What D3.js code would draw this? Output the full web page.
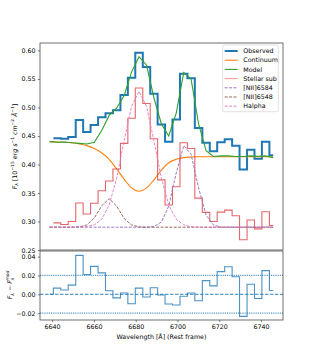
<!DOCTYPE html>
<head>
<meta charset="utf-8">
<style>
  body { margin: 0; background: #fff; }
  text { font-family: "DejaVu Sans", sans-serif; fill: #000; }
</style>
<script src="https://cdn.jsdelivr.net/npm/d3@7"></script>
</head>
<body>
<div id="chart"></div>
<script>

// wavelength grid (rest frame, Angstrom)
var wavelength = [6638.8, 6642.4, 6645.9, 6649.5, 6653.1, 6656.6, 6660.2, 6663.8, 6667.3, 6670.9,
                  6674.5, 6678.0, 6681.6, 6685.2, 6688.7, 6692.3, 6695.8, 6699.4, 6703.0, 6706.5,
                  6710.1, 6713.7, 6717.2, 6720.8, 6724.4, 6727.9, 6731.5, 6735.1, 6738.6, 6742.2, 6745.8];

var observed = [null, 0.446, 0.445, 0.448, 0.478, 0.457, 0.469, 0.483, 0.490, 0.495,
                0.522, 0.552, 0.596, 0.571, 0.524, 0.470, 0.440, 0.479, 0.559, 0.551,
                0.464, 0.438, 0.423, 0.439, 0.444, 0.433, 0.391, 0.426, 0.410, 0.440, 0.416];

var continuum = [0.440, 0.4395, 0.439, 0.438, 0.436, 0.433, 0.428, 0.420, 0.409, 0.392,
                 0.374, 0.359, 0.353, 0.359, 0.373, 0.390, 0.403, 0.409, 0.412, 0.413,
                 0.4135, 0.4135, 0.4135, 0.4135, 0.4135, 0.4135, 0.4135, 0.4135, 0.4135, 0.4135, 0.4135];

var model = [0.440, 0.439, 0.4395, 0.438, 0.437, 0.436, 0.439, 0.460, 0.486, 0.499,
             0.521, 0.562, 0.589, 0.574, 0.517, 0.471, 0.450, 0.490, 0.561, 0.550,
             0.471, 0.424, 0.414, 0.415, 0.415, 0.414, 0.414, 0.415, 0.4145, 0.415, 0.412];

var stellarSub = [null, 0.2976, 0.2946, 0.300, 0.3325, 0.313, 0.332, 0.354, 0.371, 0.392,
                  0.437, 0.481, 0.534, 0.507, 0.445, 0.373, 0.329, 0.361, 0.438, 0.428,
                  0.341, 0.316, 0.300, 0.3165, 0.320, 0.310, 0.268, 0.3025, 0.287, 0.317, 0.293];

var nii6584 = [0.290, 0.290, 0.290, 0.290, 0.290, 0.290, 0.290, 0.290, 0.290, 0.290,
               0.290, 0.290, 0.290, 0.290, 0.291, 0.299, 0.327, 0.385, 0.433, 0.418,
               0.359, 0.311, 0.294, 0.290, 0.290, 0.290, 0.290, 0.290, 0.290, 0.290, 0.290];

var nii6548 = [0.290, 0.290, 0.290, 0.290, 0.2905, 0.294, 0.306, 0.328, 0.340, 0.327,
               0.305, 0.294, 0.2905, 0.290, 0.290, 0.290, 0.290, 0.290, 0.290, 0.290,
               0.290, 0.290, 0.290, 0.290, 0.290, 0.290, 0.290, 0.290, 0.290, 0.290, 0.290];

var halpha = [0.290, 0.290, 0.290, 0.290, 0.290, 0.291, 0.294, 0.304, 0.329, 0.376,
              0.442, 0.502, 0.528, 0.502, 0.442, 0.376, 0.329, 0.304, 0.294, 0.291,
              0.290, 0.290, 0.290, 0.290, 0.290, 0.290, 0.290, 0.290, 0.290, 0.290, 0.290];

var residual = [0.000, 0.0066, 0.0045, 0.0097, 0.0414, 0.021, 0.0297, 0.0228, 0.0038, -0.0038,
                0.0014, -0.010, 0.0066, -0.0028, 0.0069, -0.0007, -0.0103, -0.0114, -0.002, 0.0014,
                -0.0069, 0.0145, 0.009, 0.0241, 0.0293, 0.0186, -0.0234, 0.0107, -0.0045, 0.0252, 0.0041];

var xTicks = [6640, 6660, 6680, 6700, 6720, 6740];
var yTopTicks = [0.25, 0.30, 0.35, 0.40, 0.45, 0.50, 0.55, 0.60];
var yBotTicks = [-0.02, 0.00, 0.02, 0.04];
var legendNames = ["Observed", "Continuum", "Model", "Stellar sub", "[NII]6584", "[NII]6548", "Halpha"];

var w = 315, h = 360;
var pLeft = 40, pRight = 283, pTop = 43, pMid = 250, pBot = 320;
var fs = 6.3, tickLen = 2.2;

var svg = d3.select("#chart").append("svg").attr("width", w).attr("height", h);

var x = d3.scaleLinear().domain([6634.2, 6750.5]).range([pLeft, pRight]);
var yTop = d3.scaleLinear().domain([0.25, 0.613]).range([pMid, pTop]);
var yBot = d3.scaleLinear().domain([-0.0273, 0.046]).range([pBot, pMid + 1]);

// step ("steps-mid") points: each value spans half way to its neighbours
function stepPts(vals) {
    var n = wavelength.length, pts = [];
    vals.forEach(function(v, i) {
        if (v == null) return;
        var xl = i === 0 ? wavelength[0] : (wavelength[i - 1] + wavelength[i]) / 2;
        var xr = i === n - 1 ? wavelength[n - 1] : (wavelength[i] + wavelength[i + 1]) / 2;
        pts.push([xl, v], [xr, v]);
    });
    return pts;
}

var stepTop = d3.line().x(function(d) { return x(d[0]); }).y(function(d) { return yTop(d[1]); });
var stepBot = d3.line().x(function(d) { return x(d[0]); }).y(function(d) { return yBot(d[1]); });
function lineTop(vals, curve) {
    return d3.line().curve(curve || d3.curveLinear)
        .x(function(d, i) { return x(wavelength[i]); })
        .y(function(d) { return yTop(d); })(vals);
}

var gTop = svg.append("g");

gTop.append("path").attr("d", stepTop(stepPts(observed)))
    .attr("fill", "none").attr("stroke", "#1f77b4").attr("stroke-width", 2);
gTop.append("path").attr("d", lineTop(continuum, d3.curveMonotoneX))
    .attr("fill", "none").attr("stroke", "#ff7f0e").attr("stroke-width", 1.1);
gTop.append("path").attr("d", lineTop(model))
    .attr("fill", "none").attr("stroke", "#2ca02c").attr("stroke-width", 1.1);
gTop.append("path").attr("d", stepTop(stepPts(stellarSub)))
    .attr("fill", "none").attr("stroke", "#d62728").attr("stroke-opacity", 0.7).attr("stroke-width", 1.1);
gTop.append("path").attr("d", lineTop(nii6584))
    .attr("fill", "none").attr("stroke", "#9467bd").attr("stroke-width", 0.9).attr("stroke-dasharray", "3,1.4");
gTop.append("path").attr("d", lineTop(nii6548))
    .attr("fill", "none").attr("stroke", "#8c564b").attr("stroke-width", 0.9).attr("stroke-dasharray", "3,1.4");
gTop.append("path").attr("d", lineTop(halpha))
    .attr("fill", "none").attr("stroke", "#e377c2").attr("stroke-width", 0.9).attr("stroke-dasharray", "3,1.4");

// residual panel
var gBot = svg.append("g");
[0.02, -0.02].forEach(function(v) {
    gBot.append("line").attr("x1", pLeft).attr("x2", pRight).attr("y1", yBot(v)).attr("y2", yBot(v))
        .attr("stroke", "#1f77b4").attr("stroke-opacity", 0.75).attr("stroke-width", 1.2)
        .attr("stroke-dasharray", "1.2,1");
});
gBot.append("line").attr("x1", pLeft).attr("x2", pRight).attr("y1", yBot(0)).attr("y2", yBot(0))
    .attr("stroke", "#1f77b4").attr("stroke-width", 0.9).attr("stroke-dasharray", "3.5,1.5");
gBot.append("path").attr("d", stepBot(stepPts(residual)))
    .attr("fill", "none").attr("stroke", "#1f77b4").attr("stroke-opacity", 0.8).attr("stroke-width", 1.1);

// axes
function styleAxis(g) {
    g.select(".domain").remove();
    g.selectAll(".tick line").attr("stroke", "#000").attr("stroke-width", 0.5);
    g.selectAll(".tick text").style("font-size", fs + "px").style("font-family", "DejaVu Sans");
}
svg.append("g").attr("transform", "translate(" + pLeft + ",0)")
    .call(d3.axisLeft(yTop).tickValues(yTopTicks).tickFormat(d3.format(".2f")).tickSize(tickLen).tickPadding(2.2))
    .call(styleAxis);
svg.append("g").attr("transform", "translate(" + pLeft + ",0)")
    .call(d3.axisLeft(yBot).tickValues(yBotTicks).tickFormat(d3.format(".2f")).tickSize(tickLen).tickPadding(2.2))
    .call(styleAxis);
svg.append("g").attr("transform", "translate(0," + pBot + ")")
    .call(d3.axisBottom(x).tickValues(xTicks).tickFormat(d3.format("d")).tickSize(tickLen).tickPadding(2.2))
    .call(styleAxis);

// frames
svg.append("rect").attr("x", pLeft).attr("y", pTop).attr("width", pRight - pLeft).attr("height", pMid - pTop)
    .attr("fill", "none").attr("stroke", "#333").attr("stroke-width", 0.7);
svg.append("rect").attr("x", pLeft).attr("y", pMid + 1).attr("width", pRight - pLeft).attr("height", pBot - pMid - 1)
    .attr("fill", "none").attr("stroke", "#333").attr("stroke-width", 0.7);

// rich text helper (italic, sub/superscripts)
function rich(sel, parts) {
    var cur = 0;
    parts.forEach(function(p) {
        var shift = p.s || 0;
        var t = sel.append("tspan").text(p.t).attr("dy", (cur - shift) + "px");
        cur = shift;
        if (p.i) t.style("font-style", "italic");
        if (p.s) t.style("font-size", (fs * 0.7) + "px");
        if (p.dx) t.attr("dx", p.dx);
    });
}

svg.append("text").attr("x", (pLeft + pRight) / 2).attr("y", 338.5).attr("text-anchor", "middle")
    .style("font-size", fs + "px").text("Wavelength [Å] (Rest frame)");

var yl = svg.append("text").attr("transform", "translate(16.5," + ((pTop + pMid) / 2) + ") rotate(-90)")
    .attr("text-anchor", "middle").style("font-size", fs + "px");
rich(yl, [{t: "F", i: 1}, {t: "λ", i: 1, s: -1.5}, {t: " [10"}, {t: "−15", s: 2.5}, {t: " erg s", i: 1},
          {t: "−1", s: 2.5}, {t: " cm", i: 1}, {t: "−2", s: 2.5}, {t: " Å", i: 1}, {t: "−1", s: 2.5}, {t: "]"}]);

var yl2 = svg.append("text").attr("transform", "translate(12," + ((pMid + pBot) / 2) + ") rotate(-90)")
    .attr("text-anchor", "middle").style("font-size", fs + "px");
rich(yl2, [{t: "F", i: 1}, {t: "λ", i: 1, s: -1.5}, {t: " − F", i: 1}, {t: "λ", i: 1, s: -1.5},
           {t: "mod", i: 1, s: 2.8, dx: -3}]);

// legend
var lx = 222.7, ly = 45, lw = 55.6, lh = 66.7, step = 9.2;
var lg = svg.append("g");
lg.append("rect").attr("x", lx).attr("y", ly).attr("width", lw).attr("height", lh).attr("rx", 1.5)
    .attr("fill", "#fff").attr("fill-opacity", 0.8).attr("stroke", "#ccc").attr("stroke-width", 0.6);
var legStyle = [
    {c: "#1f77b4", w: 2, dash: null, op: 1},
    {c: "#ff7f0e", w: 1.1, dash: null, op: 1},
    {c: "#2ca02c", w: 1.1, dash: null, op: 1},
    {c: "#d62728", w: 1.1, dash: null, op: 0.45},
    {c: "#9467bd", w: 0.9, dash: "3,1.4", op: 1},
    {c: "#8c564b", w: 0.9, dash: "3,1.4", op: 1},
    {c: "#e377c2", w: 0.9, dash: "3,1.4", op: 1}
];
legendNames.forEach(function(name, i) {
    var yy = ly + 6 + i * step, s = legStyle[i];
    lg.append("line").attr("x1", lx + 2).attr("x2", lx + 15).attr("y1", yy).attr("y2", yy)
        .attr("stroke", s.c).attr("stroke-width", s.w).attr("stroke-opacity", s.op)
        .attr("stroke-dasharray", s.dash);
    lg.append("text").attr("x", lx + 20.6).attr("y", yy + 2.2).style("font-size", fs + "px").text(name);
});
</script>
</body>
